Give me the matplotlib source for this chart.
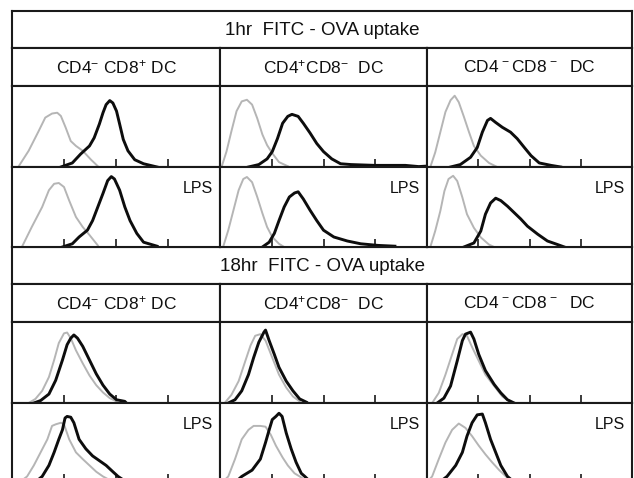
import matplotlib
matplotlib.use('Agg')
import matplotlib.pyplot as plt

plt.rcParams['font.family'] = ['Liberation Sans', 'DejaVu Sans']
plt.rcParams['mathtext.fontset'] = 'custom'
plt.rcParams['mathtext.rm'] = 'Liberation Sans'
plt.rcParams['mathtext.it'] = 'Liberation Sans:italic'
plt.rcParams['mathtext.bf'] = 'Liberation Sans:bold'

# ---------------- text ----------------
section_titles = ['1hr  FITC - OVA uptake', '18hr  FITC - OVA uptake']
subset_labels = [r'$\mathrm{CD4}^{-}\ \mathrm{CD8}^{+}\ \mathrm{DC}$',
                 r'$\mathrm{CD4}^{+}\mathrm{CD8}^{-}\ \ \mathrm{DC}$',
                 r'$\mathrm{CD4}^{\,-}\mathrm{CD8}^{\,-}\ \ \mathrm{DC}$']
condition_labels = ['', 'LPS']
tick_positions = [1, 2, 3]   # log decades 10^1, 10^2, 10^3

# ---------------- data (x: log10 fluorescence, y: relative count) ----------------
# 1hr, medium
p11_gx = [0.12, 0.32, 0.51, 0.64, 0.77, 0.87, 0.94, 1.03, 1.13, 1.23, 1.36, 1.52, 1.65]
p11_gy = [0.0, 0.20, 0.44, 0.61, 0.66, 0.67, 0.63, 0.49, 0.32, 0.26, 0.20, 0.09, 0.01]
p11_bx = [0.94, 1.16, 1.32, 1.49, 1.58, 1.68, 1.75, 1.81, 1.88, 1.94, 2.01, 2.07, 2.14, 2.23, 2.36, 2.53, 2.79]
p11_by = [0.0, 0.05, 0.16, 0.26, 0.36, 0.53, 0.67, 0.77, 0.82, 0.79, 0.69, 0.53, 0.34, 0.20, 0.09, 0.04, 0.0]

p12_gx = [0.03, 0.125, 0.22, 0.32, 0.42, 0.52, 0.62, 0.72, 0.82, 0.91, 1.01, 1.14, 1.31]
p12_gy = [0.0, 0.19, 0.44, 0.69, 0.81, 0.83, 0.77, 0.60, 0.40, 0.27, 0.17, 0.06, 0.01]
p12_bx = [0.55, 0.75, 0.91, 1.01, 1.11, 1.21, 1.31, 1.39, 1.51, 1.61, 1.74, 1.87, 2.0, 2.16, 2.33, 2.53, 2.99, 3.58, 3.84, 3.97]
p12_by = [0.0, 0.03, 0.10, 0.19, 0.35, 0.54, 0.625, 0.65, 0.625, 0.54, 0.42, 0.29, 0.19, 0.10, 0.04, 0.03, 0.02, 0.02, 0.005, 0.01]

p13_gx = [0.065, 0.16, 0.26, 0.36, 0.46, 0.54, 0.62, 0.72, 0.82, 0.915, 1.05, 1.21, 1.37]
p13_gy = [0.0, 0.18, 0.43, 0.68, 0.825, 0.88, 0.80, 0.62, 0.43, 0.26, 0.14, 0.05, 0.0]
p13_bx = [0.46, 0.65, 0.85, 0.98, 1.08, 1.18, 1.24, 1.34, 1.47, 1.63, 1.76, 1.90, 2.03, 2.19, 2.42, 2.61]
p13_by = [0.0, 0.03, 0.12, 0.24, 0.43, 0.575, 0.60, 0.55, 0.49, 0.43, 0.35, 0.24, 0.14, 0.05, 0.02, 0.0]

# 1hr, LPS
p21_gx = [0.19, 0.38, 0.58, 0.71, 0.81, 0.90, 1.0, 1.10, 1.23, 1.36, 1.49, 1.65]
p21_gy = [0.0, 0.25, 0.50, 0.71, 0.79, 0.80, 0.75, 0.58, 0.375, 0.25, 0.15, 0.02]
p21_bx = [0.97, 1.16, 1.29, 1.45, 1.55, 1.65, 1.75, 1.84, 1.91, 1.97, 2.07, 2.17, 2.27, 2.40, 2.53, 2.79]
p21_by = [0.0, 0.04, 0.125, 0.21, 0.33, 0.50, 0.67, 0.83, 0.88, 0.85, 0.71, 0.50, 0.33, 0.17, 0.06, 0.01]

p22_gx = [0.06, 0.16, 0.26, 0.36, 0.45, 0.52, 0.62, 0.72, 0.82, 0.91, 1.01, 1.14, 1.24]
p22_gy = [0.0, 0.21, 0.46, 0.71, 0.85, 0.875, 0.81, 0.625, 0.42, 0.25, 0.125, 0.04, 0.0]
p22_bx = [0.82, 0.95, 1.05, 1.14, 1.24, 1.34, 1.44, 1.51, 1.61, 1.74, 1.87, 2.0, 2.2, 2.46, 2.72, 3.05, 3.38]
p22_by = [0.0, 0.06, 0.17, 0.33, 0.50, 0.625, 0.675, 0.69, 0.60, 0.46, 0.33, 0.21, 0.125, 0.075, 0.04, 0.02, 0.01]

p23_gx = [0.065, 0.16, 0.26, 0.34, 0.42, 0.51, 0.59, 0.69, 0.78, 0.915, 1.05, 1.21, 1.31]
p23_gy = [0.0, 0.20, 0.45, 0.70, 0.85, 0.89, 0.825, 0.62, 0.41, 0.24, 0.12, 0.03, 0.0]
p23_bx = [0.72, 0.915, 1.05, 1.14, 1.24, 1.34, 1.44, 1.57, 1.70, 1.83, 1.96, 2.16, 2.35, 2.55, 2.68]
p23_by = [0.0, 0.05, 0.20, 0.41, 0.55, 0.61, 0.58, 0.51, 0.43, 0.35, 0.26, 0.16, 0.075, 0.03, 0.0]

# 18hr, medium
p31_gx = [0.32, 0.45, 0.58, 0.71, 0.81, 0.90, 1.0, 1.06, 1.13, 1.23, 1.36, 1.49, 1.62, 1.75, 1.88, 2.01]
p31_gy = [0.0, 0.05, 0.15, 0.32, 0.53, 0.74, 0.86, 0.87, 0.80, 0.65, 0.49, 0.34, 0.22, 0.13, 0.06, 0.02]
p31_bx = [0.42, 0.55, 0.71, 0.84, 0.97, 1.06, 1.13, 1.19, 1.26, 1.36, 1.49, 1.62, 1.75, 1.88, 2.01, 2.17, 2.2]
p31_by = [0.0, 0.03, 0.11, 0.28, 0.53, 0.72, 0.80, 0.84, 0.80, 0.70, 0.53, 0.36, 0.22, 0.11, 0.04, 0.02, 0.0]

p32_gx = [0.09, 0.22, 0.36, 0.49, 0.59, 0.68, 0.78, 0.88, 1.01, 1.14, 1.28, 1.41, 1.54]
p32_gy = [0.0, 0.10, 0.27, 0.52, 0.71, 0.83, 0.85, 0.77, 0.56, 0.35, 0.19, 0.08, 0.02]
p32_bx = [0.16, 0.29, 0.42, 0.55, 0.65, 0.75, 0.85, 0.88, 0.95, 1.05, 1.14, 1.28, 1.41, 1.54, 1.67]
p32_by = [0.0, 0.04, 0.15, 0.35, 0.56, 0.75, 0.875, 0.90, 0.77, 0.60, 0.44, 0.27, 0.15, 0.05, 0.01]

p33_gx = [0.10, 0.23, 0.36, 0.49, 0.59, 0.69, 0.78, 0.88, 1.01, 1.14, 1.31, 1.47, 1.63]
p33_gy = [0.0, 0.125, 0.35, 0.60, 0.79, 0.85, 0.83, 0.69, 0.52, 0.35, 0.21, 0.08, 0.01]
p33_bx = [0.20, 0.33, 0.46, 0.59, 0.69, 0.75, 0.85, 0.915, 1.01, 1.14, 1.31, 1.44, 1.57, 1.70]
p33_by = [0.0, 0.06, 0.21, 0.52, 0.77, 0.85, 0.875, 0.79, 0.60, 0.40, 0.23, 0.125, 0.04, 0.0]

# 18hr, LPS
p41_gx = [0.15, 0.29, 0.42, 0.55, 0.68, 0.77, 0.84, 0.94, 1.0, 1.10, 1.23, 1.36, 1.49, 1.62, 1.75, 1.95]
p41_gy = [0.0, 0.07, 0.21, 0.375, 0.54, 0.71, 0.73, 0.75, 0.73, 0.54, 0.375, 0.29, 0.21, 0.13, 0.07, 0.0]
p41_bx = [0.45, 0.58, 0.71, 0.81, 0.90, 0.97, 1.02, 1.06, 1.13, 1.19, 1.29, 1.42, 1.55, 1.68, 1.81, 1.94, 2.04, 2.2]
p41_by = [0.0, 0.07, 0.21, 0.375, 0.54, 0.66, 0.81, 0.83, 0.82, 0.75, 0.54, 0.42, 0.33, 0.27, 0.21, 0.13, 0.07, 0.0]

p42_gx = [0.05, 0.16, 0.29, 0.42, 0.55, 0.65, 0.78, 0.88, 0.98, 1.08, 1.21, 1.31, 1.44, 1.54, 1.7]
p42_gy = [0.0, 0.07, 0.29, 0.54, 0.66, 0.71, 0.71, 0.70, 0.60, 0.46, 0.31, 0.21, 0.11, 0.07, 0.0]
p42_bx = [0.3, 0.42, 0.62, 0.78, 0.88, 0.95, 1.01, 1.08, 1.14, 1.20, 1.28, 1.375, 1.47, 1.57, 1.64, 1.75]
p42_by = [0.0, 0.07, 0.15, 0.29, 0.50, 0.66, 0.79, 0.83, 0.87, 0.83, 0.62, 0.42, 0.25, 0.11, 0.07, 0.0]

p43_gx = [0.0, 0.10, 0.23, 0.36, 0.49, 0.62, 0.75, 0.88, 1.01, 1.14, 1.27, 1.41, 1.54, 1.7]
p43_gy = [0.0, 0.07, 0.29, 0.50, 0.66, 0.74, 0.685, 0.58, 0.46, 0.35, 0.25, 0.15, 0.07, 0.0]
p43_bx = [0.25, 0.39, 0.56, 0.69, 0.78, 0.88, 0.98, 1.08, 1.14, 1.24, 1.34, 1.44, 1.57, 1.7]
p43_by = [0.0, 0.07, 0.21, 0.375, 0.58, 0.75, 0.85, 0.86, 0.75, 0.54, 0.375, 0.21, 0.07, 0.0]

panels = {
    (0, 0): (p11_gx, p11_gy, p11_bx, p11_by),
    (0, 1): (p12_gx, p12_gy, p12_bx, p12_by),
    (0, 2): (p13_gx, p13_gy, p13_bx, p13_by),
    (1, 0): (p21_gx, p21_gy, p21_bx, p21_by),
    (1, 1): (p22_gx, p22_gy, p22_bx, p22_by),
    (1, 2): (p23_gx, p23_gy, p23_bx, p23_by),
    (2, 0): (p31_gx, p31_gy, p31_bx, p31_by),
    (2, 1): (p32_gx, p32_gy, p32_bx, p32_by),
    (2, 2): (p33_gx, p33_gy, p33_bx, p33_by),
    (3, 0): (p41_gx, p41_gy, p41_bx, p41_by),
    (3, 1): (p42_gx, p42_gy, p42_bx, p42_by),
    (3, 2): (p43_gx, p43_gy, p43_bx, p43_by),
}

# ---------------- layout (pixels) ----------------
W, H = 634, 478
col_edges = [12, 220, 427, 632]
title_rows = [(11, 48), (247, 284)]
sub_rows = [(48, 86), (284, 322)]
plot_rows = [(86, 167), (167, 247), (322, 403), (403, 482)]

LINE = '#1a1a1a'
GRAY = '#b5b5b5'
BW = 1.5

fig = plt.figure(figsize=(W / 100, H / 100), dpi=100)
fig.patch.set_facecolor('white')


def rect(x0, y0, x1, y1):
    return [x0 / W, 1 - y1 / H, (x1 - x0) / W, (y1 - y0) / H]


def box(x0, y0, x1, y1):
    ax = fig.add_axes(rect(x0, y0, x1, y1))
    ax.set_xticks([])
    ax.set_yticks([])
    ax.set_xlim(0, 1)
    ax.set_ylim(0, 1)
    for s in ax.spines.values():
        s.set_linewidth(BW)
        s.set_color(LINE)
    return ax


for s in range(2):
    t0, t1 = title_rows[s]
    ax = box(col_edges[0], t0, col_edges[-1], t1)
    ax.text(0.5, 0.48, section_titles[s], ha='center', va='center', fontsize=13.5, color='#111')
    s0, s1 = sub_rows[s]
    for c in range(3):
        ax = box(col_edges[c], s0, col_edges[c + 1], s1)
        ax.text(0.5, 0.5, subset_labels[c], ha='center', va='center', fontsize=12.5, color='#111')

for r in range(4):
    y0, y1 = plot_rows[r]
    for c in range(3):
        ax = fig.add_axes(rect(col_edges[c], y0, col_edges[c + 1], y1))
        gx, gy, bx, by = panels[(r, c)]
        ax.plot(gx, gy, color=GRAY, lw=1.4, solid_joinstyle='round')
        ax.plot(bx, by, color='#0d0d0d', lw=2.1, solid_joinstyle='round')
        ax.set_xlim(0, 4)
        ax.set_ylim(0, 1)
        ax.set_xticks(tick_positions)
        ax.set_xticklabels([])
        ax.set_yticks([])
        ax.tick_params(axis='x', direction='in', length=5.5, width=1.2, color=LINE, top=False)
        for s in ax.spines.values():
            s.set_linewidth(BW)
            s.set_color(LINE)
        lab = condition_labels[r % 2]
        if lab:
            ax.text(0.965, 0.73, lab, transform=ax.transAxes, ha='right', va='center',
                    fontsize=11.5, color='#111')

fig.savefig('out.png', dpi=100)
